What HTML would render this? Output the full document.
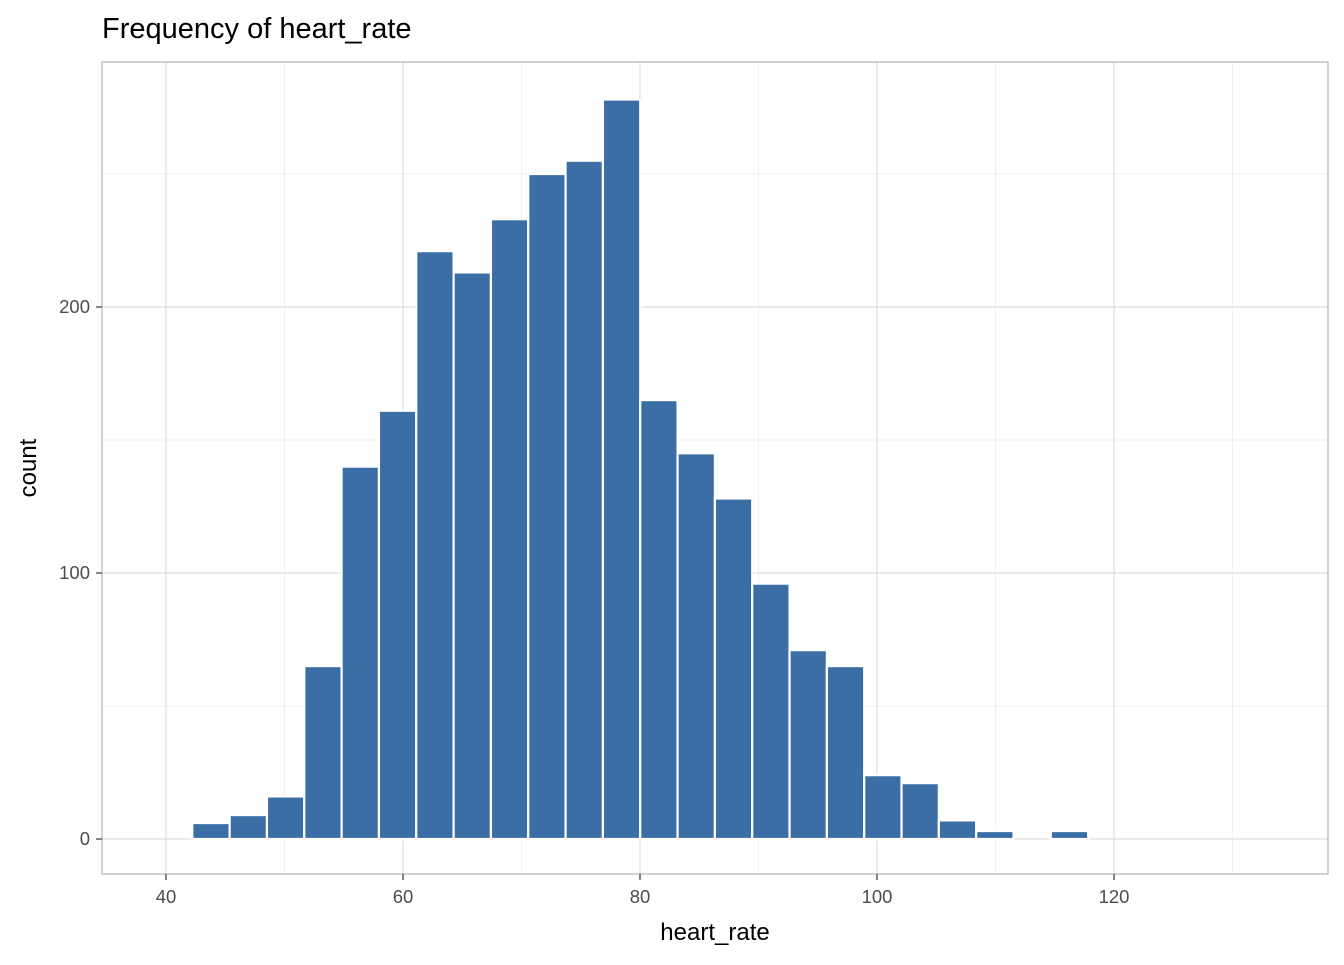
<!DOCTYPE html>
<html><head><meta charset="utf-8"><style>
body{margin:0;background:#fff;font-family:"Liberation Sans",Arial,sans-serif;}
</style></head><body>
<svg id="chart" width="1344" height="960" xmlns="http://www.w3.org/2000/svg">
<text x="102" y="38" font-size="29" fill="#000">Frequency of heart_rate</text>
<g id="grid"></g>
<g id="bars"></g>
<rect x="102" y="62" width="1226" height="812" fill="none" stroke="#b3b3b3" stroke-width="1.2"/>
<g id="ticks"></g>
<text x="715" y="940" font-size="24" text-anchor="middle">heart_rate</text>
<text transform="translate(36,468) rotate(-90)" font-size="24" text-anchor="middle">count</text>
</svg>
<script>
const binStart = 39.07;
const binWidth = 3.15;
const counts = [0,6,9,16,65,140,161,221,213,233,250,255,278,165,145,128,96,71,65,24,21,7,3,0,3,0,0,0,0,0];
const xTicks = [40,60,80,100,120];
const yTicks = [0,100,200];
const xMinor = [50,70,90,110,130];
const yMinor = [50,150,250];
const NS="http://www.w3.org/2000/svg";
const sx=v=>166+(v-40)*11.85;
const sy=v=>839-v*2.66;
const grid=document.getElementById('grid'),bars=document.getElementById('bars'),ticks=document.getElementById('ticks');
function mk(tag,attrs,parent){const e=document.createElementNS(NS,tag);for(const k in attrs)e.setAttribute(k,attrs[k]);parent.appendChild(e);return e;}
xMinor.forEach(v=>{const l=mk('line',{x1:sx(v),x2:sx(v),y1:62,y2:874,stroke:'#ebebeb','stroke-width':0.7},grid);

});
yMinor.forEach(v=>{const l=mk('line',{x1:102,x2:1328,y1:sy(v),y2:sy(v),stroke:'#ebebeb','stroke-width':0.7},grid);

});
xTicks.forEach(v=>{const l=mk('line',{x1:sx(v),x2:sx(v),y1:62,y2:874,stroke:'#dedede','stroke-width':1.2},grid);


const t=mk('line',{x1:sx(v),x2:sx(v),y1:874,y2:880,stroke:'#333','stroke-width':1.2},ticks);


const tx=mk('text',{x:sx(v),y:903,'font-size':18.5,fill:'#4d4d4d','text-anchor':'middle'},ticks);tx.textContent=v;

});
yTicks.forEach(v=>{const l=mk('line',{x1:102,x2:1328,y1:sy(v),y2:sy(v),stroke:'#dedede','stroke-width':1.2},grid);


const t=mk('line',{x1:96,x2:102,y1:sy(v),y2:sy(v),stroke:'#333','stroke-width':1.2},ticks);


const tx=mk('text',{x:90,y:sy(v)+6,'font-size':18.5,fill:'#4d4d4d','text-anchor':'end'},ticks);tx.textContent=v;

});
counts.forEach((c,i)=>{const x0=sx(binStart+i*binWidth),x1=sx(binStart+(i+1)*binWidth);
const r=mk('rect',{x:x0,y:sy(c),width:x1-x0,height:sy(0)-sy(c),fill:'#3a6ea5',stroke:'#fff','stroke-width':2.2},bars);

});
</script>
</body></html>
